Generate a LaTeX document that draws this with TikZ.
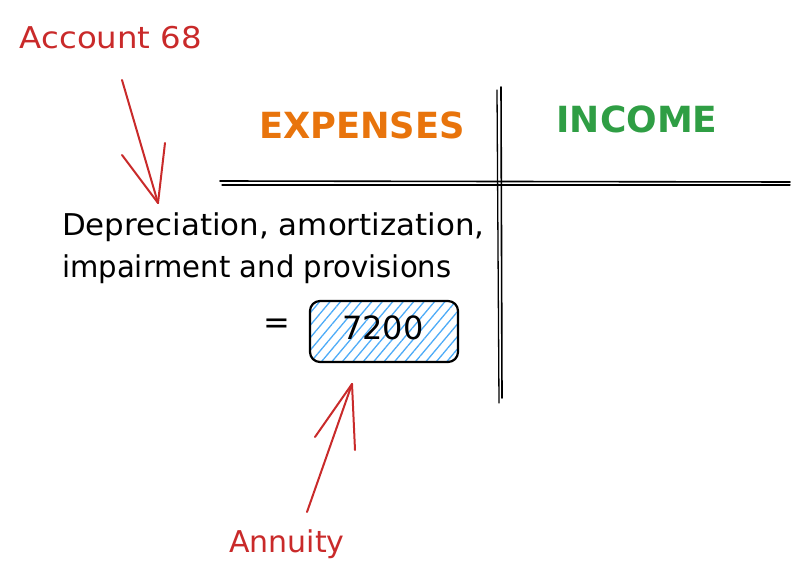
\documentclass[tikz,border=0pt]{standalone}
\usepackage{fontspec}
\setmainfont{DejaVu Sans}
\usetikzlibrary{patterns.meta}
\definecolor{redink}{HTML}{C92A2A}
\definecolor{orangeink}{HTML}{E8740C}
\definecolor{greenink}{HTML}{2F9E44}
\definecolor{hatchblue}{HTML}{4DABF7}
\tikzset{
  sketch/.style={line width=1.6pt, line cap=round, line join=round},
  redarrow/.style={sketch, line width=2pt, draw=redink},
  label/.style={inner sep=0pt, anchor=center},
  bodytext/.style={inner sep=0pt, anchor=base west, font=\fontsize{30}{36}\selectfont},
  heading/.style={inner sep=0pt, anchor=center, font=\fontsize{36}{40}\selectfont\bfseries},
}
\begin{document}
\begin{tikzpicture}[x=1pt,y=-1pt]
\useasboundingbox (0,0) rectangle (811,583);
% titles
\node[label, text=redink, font=\fontsize{30}{34}\selectfont] (acc) at (111,38) {\scalebox{1.08}[1]{Account 68}};
\node[heading, text=orangeink] (exp) at (362,125) {\scalebox{0.98}[1]{EXPENSES}};
\node[heading, text=greenink] (inc) at (637,119) {INCOME};
% T-account lines
\coordinate (hl1) at (220,181); \coordinate (hr1) at (790,182);
\coordinate (hl2) at (222,185); \coordinate (hr2) at (790,185);
\coordinate (vt1) at (497,90); \coordinate (vb1) at (499,403);
\coordinate (vt2) at (501,87); \coordinate (vb2) at (502,398);
\draw[sketch, line width=1.6pt] (hl1) -- (hr1);
\draw[sketch, line width=1.3pt] (hl2) -- (hr2);
\draw[sketch, line width=1.3pt] (vt1) -- (vb1);
\draw[sketch, line width=1.6pt] (vt2) -- (vb2);
% body text
\node[bodytext] (dep1) at (62,235) {\scalebox{1.03}[1]{Depreciation, amortization,}};
\node[bodytext] (dep2) at (62,277) {\scalebox{0.97}[1]{impairment and provisions}};
\node[label, font=\fontsize{32}{36}\selectfont] (eq) at (277,326) {=};
% value box
\path[pattern={Lines[angle=50,distance=8pt,line width=1.3pt]}, pattern color=hatchblue, rounded corners=10pt] (310,301) rectangle (458,362);
\draw[sketch, line width=2.2pt, rounded corners=10pt] (310,301) rectangle (458,362);
\node[label, font=\fontsize{32}{36}\selectfont] (val) at (383,328) {7200};
\coordinate (box) at (352,384);
% Account 68 arrow
\coordinate (a1s) at (122,80);
\coordinate (a1t) at (158,203);
\draw[redarrow] (a1s) -- (a1t);
\draw[redarrow] (a1t) -- (122,155);
\draw[redarrow] (a1t) -- (165,143);
% Annuity arrow
\node[label, text=redink, font=\fontsize{30}{34}\selectfont] (ann) at (287,544) {Annuity};
\coordinate (a2s) at (307,512);
\draw[redarrow] (a2s) -- (box);
\draw[redarrow] (box) -- (315,437);
\draw[redarrow] (box) -- (355,450);
\end{tikzpicture}
\end{document}
